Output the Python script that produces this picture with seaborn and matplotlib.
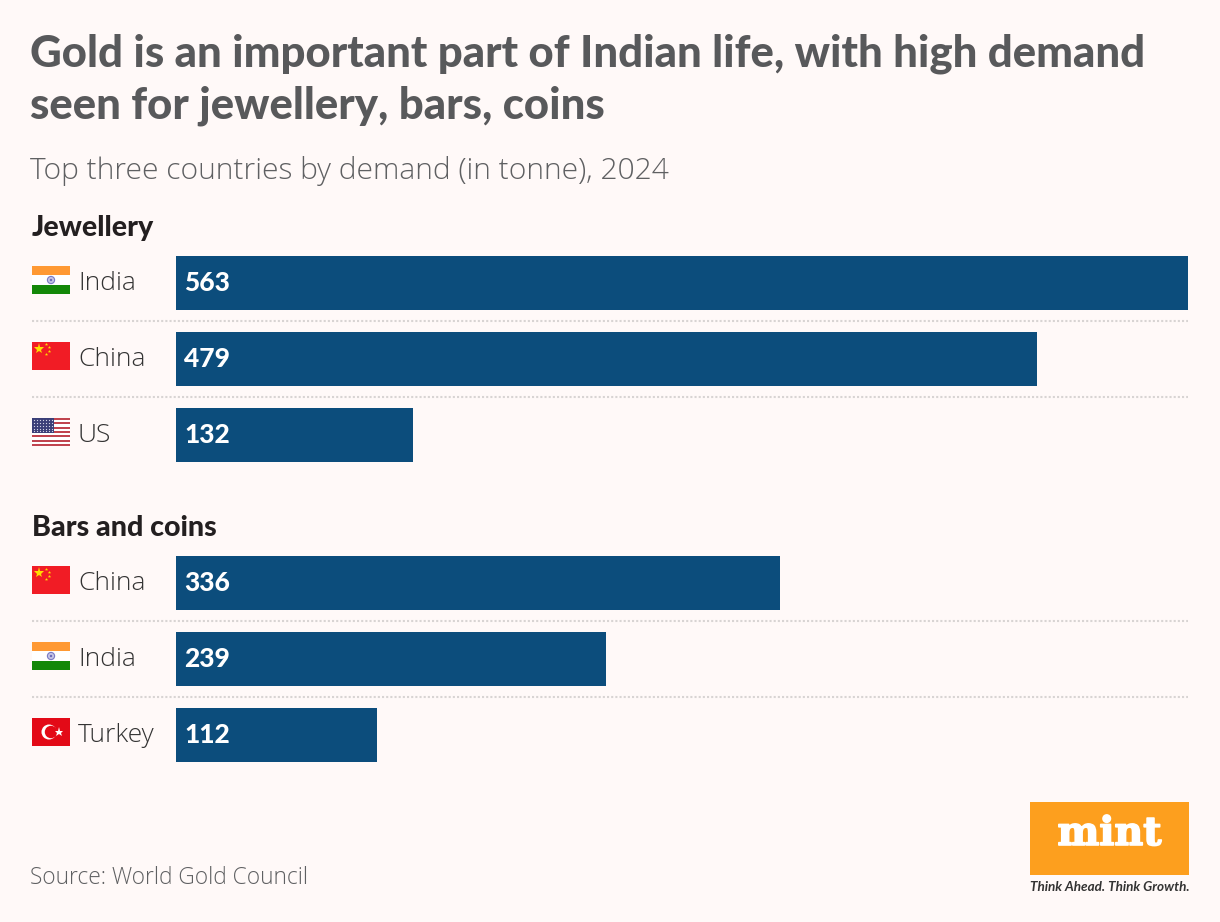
#! /usr/bin/env python

import matplotlib
matplotlib.use("Agg")
import matplotlib.pyplot as plt
import matplotlib.patheffects as pe
from matplotlib.patches import Circle, Rectangle
import pandas as pd
import seaborn as sns

jewellery_countries = ["India", "China", "US"]
jewellery_values = [563, 479, 132]
bars_countries = ["China", "India", "Turkey"]
bars_values = [336, 239, 112]

W, H = 1220, 922
BG = "#fff9f8"
BAR = "#0c4d7c"
FONT = "Lato"
LIGHT = "Open Sans"

sns.set_theme(style="white")
plt.rcParams["font.family"] = [FONT, "DejaVu Sans"]

fig = plt.figure(figsize=(W / 100, H / 100), dpi=100, facecolor=BG)


def fx(x):
    return x / W


def fy(y):
    return 1 - y / H


def px_axes(x0, y0, x1, y1):
    # axes placed by pixel box, y counted from the top
    return fig.add_axes([fx(x0), fy(y1), (x1 - x0) / W, (y1 - y0) / H])


def put(x, y, s, **kw):
    fig.text(fx(x), fy(y), s, va="center", **kw)


def flag_axes(x0, y0):
    ax = px_axes(x0, y0, x0 + 38, y0 + 28)
    ax.set_xlim(0, 38)
    ax.set_ylim(28, 0)
    ax.axis("off")
    return ax


def draw_flag(name, y0):
    ax = flag_axes(32, y0)
    if name == "India":
        ax.add_patch(Rectangle((0, 0), 38, 9.3, color="#ff9933", lw=0))
        ax.add_patch(Rectangle((0, 9.3), 38, 9.4, color="#ffffff", lw=0))
        ax.add_patch(Rectangle((0, 18.7), 38, 9.3, color="#138808", lw=0))
        ax.add_patch(Circle((19, 14), 3.6, fc="#c4c4e6", ec="#7a7ac4", lw=0.8))
        ax.add_patch(Circle((19, 14), 1.2, color="#6a6ab8", lw=0))
    elif name == "China":
        ax.add_patch(Rectangle((0, 0), 38, 28, color="#f11c25", lw=0))
        ax.plot([7], [7], marker="*", ms=8, color="#ffdd00", mew=0)
        for sx, sy in [(14, 2.5), (17.3, 5.5), (17.3, 9.5), (14, 12.5)]:
            ax.plot([sx], [sy], marker="*", ms=2.5, color="#ffdd00", mew=0)
    elif name == "US":
        for i in range(13):
            col = "#c0444f" if i % 2 == 0 else "#ffffff"
            ax.add_patch(Rectangle((0, i * 28 / 13), 38, 28 / 13, color=col, lw=0))
        ax.add_patch(Rectangle((0, 0), 22, 15, color="#3b3f78", lw=0))
        for r in range(5):
            for c in range(7):
                ax.plot([1.8 + c * 3.1], [1.8 + r * 2.9], marker=".", ms=1.8,
                        color="#d8d8e8", mew=0)
    elif name == "Turkey":
        ax.add_patch(Rectangle((0, 0), 38, 28, color="#e30a17", lw=0))
        ax.add_patch(Circle((17, 14), 7.5, color="#ffffff", lw=0))
        ax.add_patch(Circle((19, 14), 6.2, color="#e30a17", lw=0))
        ax.plot([27], [14], marker="*", ms=6.5, color="#ffffff", mew=0)


def draw_group(countries, values, top):
    df = pd.DataFrame({"country": countries, "tonne": values})
    ax = px_axes(176, top, 1188, top + 228)
    sns.barplot(data=df, x="tonne", y="country", color=BAR, saturation=1,
                width=54 / 76, ax=ax)
    ax.set_xlim(0, 563)
    ax.set_ylim(2.5, -0.5)
    ax.axis("off")
    for bar in ax.patches:
        bar.set_linewidth(0)
    for i, (name, val) in enumerate(zip(countries, values)):
        ax.annotate(str(val), xy=(0, i), xytext=(8.5, 0), textcoords="offset pixels",
                    color="white", fontsize=19, fontweight="black", va="center", ha="left")
        ax.annotate(name, xy=(0, i), xytext=(-98, 0), textcoords="offset pixels",
                    annotation_clip=False, color="#333333", fontsize=19, family=LIGHT,
                    fontweight="light", va="center", ha="left")
        draw_flag(name, top + 21 + i * 76)
    # dotted rules between the rows
    for i in [1, 2]:
        y = top + i * 76
        fig.add_artist(plt.Line2D([fx(32), fx(1188)], [fy(y), fy(y)], color="#d8d4d3",
                                  lw=1.5, ls=(0, (1, 1))))
    return ax


put(30, 54, "Gold is an important part of Indian life, with high demand",
    fontsize=31.5, fontweight="black", color="#58595b")
put(30, 106, "seen for jewellery, bars, coins", fontsize=31.5, fontweight="black", color="#58595b")
put(30, 171, "Top three countries by demand (in tonne), 2024", fontsize=21.6, family=LIGHT,
    fontweight="light", color="#5f6062")

put(32, 228, "Jewellery", fontsize=20.6, fontweight="black", color="#231f20")
draw_group(jewellery_countries, jewellery_values, 245)

put(32, 528, "Bars and coins", fontsize=20.6, fontweight="black", color="#231f20")
draw_group(bars_countries, bars_values, 545)

put(30, 878, "Source: World Gold Council", fontsize=16.4, family=LIGHT, fontweight="light",
    color="#5f6062")

# mint logo
fig.add_artist(Rectangle((fx(1030), fy(875)), 159 / W, 73 / H, transform=fig.transFigure,
                         color="#fd9f1e", lw=0))
fig.text(fx(1109.5), fy(834), "mint", family="DejaVu Serif", fontweight="bold",
         fontsize=28.5, color="white", ha="center", va="center",
         path_effects=[pe.withStroke(linewidth=1.2, foreground="white")])
fig.text(fx(1190), fy(887), "Think Ahead. Think Growth.", fontsize=9.7, fontstyle="italic",
         fontweight="bold", color="#333333", ha="right", va="center")

fig.savefig("out.png", dpi=100, facecolor=BG)
